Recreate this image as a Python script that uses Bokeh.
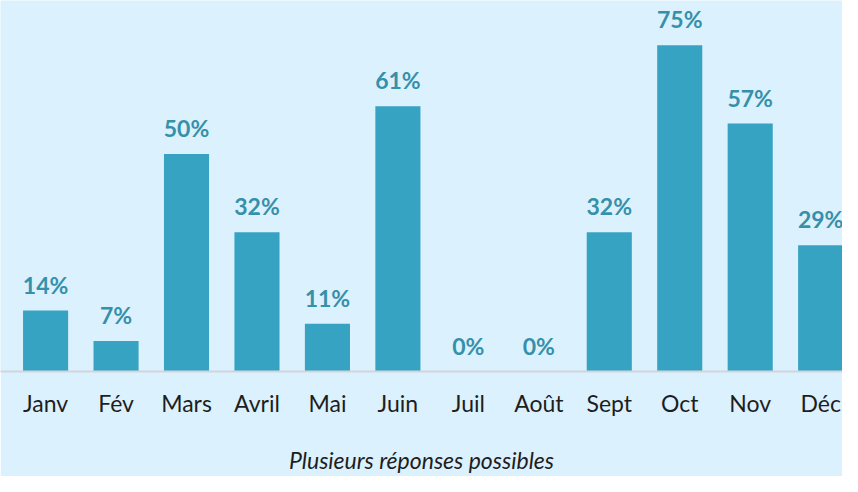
from bokeh.plotting import figure
from bokeh.models import ColumnDataSource, FixedTicker, Range1d
from bokeh.core.properties import value
from bokeh.embed import file_html
from bokeh.resources import INLINE

months = ["Janv", "Fév", "Mars", "Avril", "Mai", "Juin", "Juil", "Août", "Sept", "Oct", "Nov", "Déc"]
values = [14, 7, 50, 32, 11, 61, 0, 0, 32, 75, 57, 29]
caption = "Plusieurs réponses possibles"

xs = list(range(len(months)))
src = ColumnDataSource(dict(x=xs, v=values, lab=[f"{v}%" for v in values]))

BG = "#dcf1fe"
p = figure(width=842, height=476, output_backend="svg", toolbar_location=None,
           x_range=Range1d(-0.640, 11.310), y_range=Range1d(0, 85.3),
           min_border_left=0, min_border_right=0, min_border_top=0, min_border_bottom=100,
           background_fill_color=BG, border_fill_color=BG, outline_line_color=None)

p.vbar(x="x", top="v", width=0.64, bottom=0, source=src, fill_color="#36a3c2", line_color=None)
p.text(x="x", y="v", text="lab", source=src, text_align="center", text_baseline="alphabetic",
       y_offset=-26, text_font_size="23px", text_font_style="bold", text_color="#3590aa",
       text_font=value("Lato"))

p.xgrid.visible = False
p.ygrid.visible = False
p.yaxis.visible = False
ax = p.xaxis[0]
ax.ticker = FixedTicker(ticks=xs)
ax.major_label_overrides = {i: m for i, m in enumerate(months)}
ax.major_tick_line_color = None
ax.minor_tick_line_color = None
ax.axis_line_color = "#d2d6d9"
ax.axis_line_width = 2
ax.major_label_text_font = "Lato"
ax.major_label_text_font_size = "23px"
ax.major_label_text_color = "#1e1e1e"
ax.major_label_standoff = 11
ax.axis_label = caption
ax.axis_label_text_font = "Lato"
ax.axis_label_text_font_style = "italic"
ax.axis_label_text_font_size = "23px"
ax.axis_label_text_color = "#1e1e1e"
ax.axis_label_standoff = 26

open("out.html", "w").write(file_html(p, INLINE))
